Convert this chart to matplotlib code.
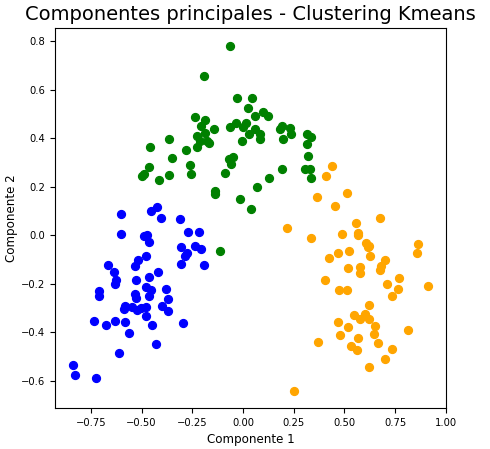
import numpy as np
import matplotlib
matplotlib.use('Agg')
import matplotlib.pyplot as plt

# Cluster 0 (blue)
blue_x = [-0.604, -0.456, -0.423, -0.403, -0.310, -0.604, -0.489, -0.472, -0.462, -0.308,
          -0.288, -0.275, -0.308, -0.480, -0.518, -0.535, -0.667, -0.637, -0.420, -0.464,
          -0.526, -0.624, -0.630, -0.476, -0.452, -0.378, -0.711, -0.711, -0.533, -0.526,
          -0.462, -0.370, -0.584, -0.588, -0.548, -0.521, -0.502, -0.479, -0.399, -0.370,
          -0.476, -0.736, -0.632, -0.675, -0.581, -0.451, -0.296, -0.564, -0.431, -0.612,
          -0.840, -0.826, -0.724, -0.272, -0.219, -0.235, -0.207, -0.193]
blue_y = [0.089, 0.101, 0.118, 0.071, 0.065, 0.004, -0.004, 0.001, -0.028, -0.048,
          -0.085, -0.072, -0.117, -0.084, -0.102, -0.126, -0.124, -0.150, -0.151, -0.173,
          -0.185, -0.185, -0.202, -0.214, -0.226, -0.221, -0.232, -0.249, -0.243, -0.257,
          -0.250, -0.264, -0.291, -0.305, -0.296, -0.309, -0.301, -0.295, -0.290, -0.312,
          -0.335, -0.352, -0.352, -0.371, -0.358, -0.372, -0.364, -0.405, -0.448, -0.485,
          -0.534, -0.578, -0.590, 0.014, 0.014, -0.045, -0.056, -0.121]

# Cluster 1 (green)
green_x = [-0.066, -0.193, -0.030, 0.046, 0.022, 0.096, 0.061, 0.123, -0.239, -0.188,
           -0.209, -0.062, -0.036, 0.013, -0.001, 0.058, -0.142, -0.189, 0.027, -0.226,
           -0.367, -0.211, -0.178, -0.170, -0.003, -0.225, -0.459, -0.281, -0.349, -0.069,
           -0.049, -0.061, -0.464, -0.263, -0.258, -0.090, -0.490, -0.497, -0.363, -0.413,
           -0.136, -0.140, -0.015, 0.071, 0.086, 0.086, 0.190, 0.181, 0.229, 0.234,
           0.198, 0.316, 0.333, 0.316, 0.321, 0.194, 0.305, 0.329, 0.333, 0.128,
           0.041, -0.115]
green_y = [0.782, 0.655, 0.564, 0.564, 0.524, 0.510, 0.491, 0.491, 0.486, 0.475,
           0.451, 0.447, 0.464, 0.462, 0.448, 0.436, 0.436, 0.422, 0.416, 0.410,
           0.395, 0.388, 0.387, 0.382, 0.387, 0.364, 0.364, 0.351, 0.319, 0.314,
           0.321, 0.294, 0.280, 0.288, 0.254, 0.256, 0.251, 0.243, 0.247, 0.226,
           0.182, 0.171, 0.151, 0.200, 0.416, 0.395, 0.449, 0.436, 0.444, 0.418,
           0.395, 0.416, 0.406, 0.375, 0.326, 0.273, 0.275, 0.275, 0.237, 0.237,
           0.107, -0.065]

# Cluster 2 (orange)
orange_x = [0.440, 0.408, 0.511, 0.365, 0.451, 0.675, 0.557, 0.487, 0.565, 0.568,
            0.336, 0.864, 0.606, 0.622, 0.614, 0.859, 0.523, 0.468, 0.422, 0.624,
            0.698, 0.519, 0.576, 0.576, 0.675, 0.681, 0.770, 0.402, 0.708, 0.762,
            0.912, 0.474, 0.514, 0.734, 0.621, 0.547, 0.601, 0.578, 0.621, 0.469,
            0.519, 0.652, 0.813, 0.479, 0.568, 0.647, 0.370, 0.664, 0.533, 0.560,
            0.736, 0.698, 0.622, 0.252, 0.216]
orange_y = [0.284, 0.243, 0.174, 0.159, 0.119, 0.070, 0.049, 0.005, 0.011, 0.000,
            -0.012, -0.037, -0.033, -0.044, -0.047, -0.074, -0.065, -0.074, -0.095, -0.086,
            -0.103, -0.135, -0.133, -0.155, -0.142, -0.129, -0.177, -0.183, -0.200, -0.220,
            -0.210, -0.224, -0.225, -0.249, -0.286, -0.331, -0.325, -0.346, -0.346, -0.357,
            -0.379, -0.375, -0.389, -0.412, -0.422, -0.409, -0.439, -0.443, -0.459, -0.472,
            -0.468, -0.509, -0.543, -0.642, 0.030]

fig = plt.figure(figsize=(4.9, 4.49), dpi=100)
ax = fig.add_subplot(111)
fig.subplots_adjust(left=0.112, right=0.910, top=0.937, bottom=0.091)

ax.scatter(blue_x, blue_y, c='blue', s=32)
ax.scatter(green_x, green_y, c='green', s=32)
ax.scatter(orange_x, orange_y, c='orange', s=32)

ax.set_title('Componentes principales - Clustering Kmeans', fontsize=14)
ax.set_xlabel('Componente 1', fontsize=8.6)
ax.set_ylabel('Componente 2', fontsize=8.6, labelpad=2)
ax.tick_params(labelsize=7.2)
ax.set_xticks([-0.75, -0.5, -0.25, 0.0, 0.25, 0.5, 0.75, 1.0])

fig.savefig('out.png', dpi=100)
